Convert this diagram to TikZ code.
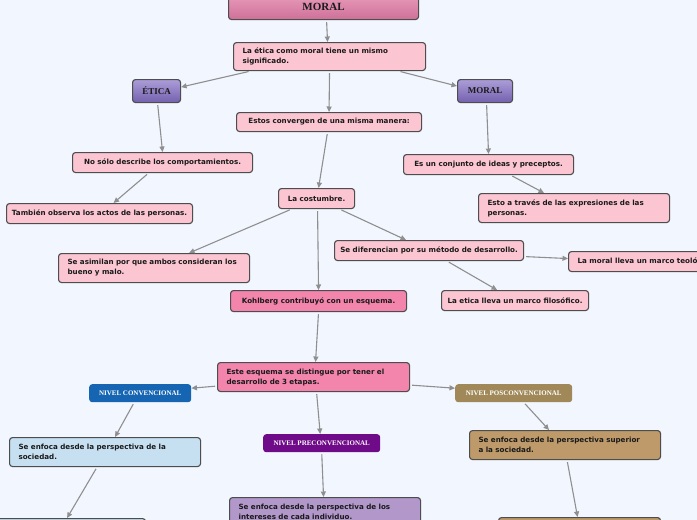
\documentclass[tikz,border=0pt]{standalone}
\usepackage{fontspec}
\setmainfont{Liberation Serif}
\newfontfamily\boxfont{DejaVu Sans}
\usetikzlibrary{arrows.meta,positioning}

\definecolor{bgblue}{HTML}{F2F6FE}
\definecolor{boxline}{HTML}{4D4D4D}
\definecolor{ink}{HTML}{1A1A1A}
\definecolor{linkgray}{HTML}{8F8F8F}
\definecolor{lightpink}{HTML}{FBC6D2}
\definecolor{strongpink}{HTML}{F385AC}
\definecolor{toppinkA}{HTML}{E79BBA}
\definecolor{toppinkB}{HTML}{CF7099}
\definecolor{headpurpleA}{HTML}{AC9DD8}
\definecolor{headpurpleB}{HTML}{7361AE}
\definecolor{convblue}{HTML}{1565B2}
\definecolor{poskhaki}{HTML}{A08858}
\definecolor{prepurple}{HTML}{6F0A88}
\definecolor{socblue}{HTML}{C6E0F2}
\definecolor{suptan}{HTML}{BE9A6B}
\definecolor{intlav}{HTML}{B197CA}

\begin{document}
\begin{tikzpicture}[x=1pt,y=-1pt,
  box/.style={draw=boxline,line width=1.1pt,rounded corners=3pt,anchor=north west,
    inner xsep=3pt,inner ysep=0pt,text=ink,align=left,
    font=\boxfont\bfseries\fontsize{7.15}{10}\selectfont},
  sz/.style 2 args={minimum width=#1,minimum height=#2},
  wrap/.style={inner xsep=9pt,text width=#1,minimum height=29},
  head/.style={rounded corners=3pt,anchor=north west,inner sep=0pt,text=white,
    font=\bfseries\fontsize{7}{8}\selectfont},
  purplehead/.style={draw=boxline,line width=1.1pt,rounded corners=3pt,anchor=north west,
    inner sep=0pt,top color=headpurpleA,bottom color=headpurpleB,text=ink,
    font=\bfseries\fontsize{9}{10}\selectfont},
  link/.style={draw=linkgray,line width=1.1pt,shorten <=2pt,
    -{Triangle[length=5.5pt,width=5pt]}}]

\useasboundingbox (0,0) rectangle (697,520);
\fill[bgblue] (0,0) rectangle (697,520);
\clip (0,0) rectangle (697,520);

% first level
\node[box,sz={190}{25},top color=toppinkA,bottom color=toppinkB,
  font=\bfseries\fontsize{11}{12}\selectfont] (moraltop) at (228,-6) {MORAL};
\node[box,wrap=174,minimum height=28,fill=lightpink] (laetica) at (233,42)
  {La ética como moral tiene un mismo\\significado.};
\node[purplehead,sz={48}{23}] (etica) at (132,79) {ÉTICA};
\node[purplehead,sz={55}{23}] (moral) at (457,79) {MORAL};
\node[box,sz={185}{19},fill=lightpink] (convergen) at (236,112) {Estos convergen de una misma manera:};

% etica / moral branches
\node[box,sz={180}{20},fill=lightpink] (nosolo) at (72,152) {No sólo describe los comportamientos.};
\node[box,sz={186}{20},fill=lightpink] (tambien) at (6,203) {También observa los actos de las personas.};
\node[box,sz={170}{20},fill=lightpink] (conjunto) at (403,154) {Es un conjunto de ideas y preceptos.};
\node[box,wrap=173,fill=lightpink] (esto) at (478,193)
  {Esto a través de las expresiones de las\\personas.};

% la costumbre
\node[box,sz={76}{20},fill=lightpink] (costumbre) at (278,188) {La costumbre.};
\node[box,wrap=173,fill=lightpink] (asimilan) at (58,253)
  {Se asimilan por que ambos consideran los\\bueno y malo.};
\node[box,sz={189}{20},fill=lightpink] (diferencian) at (334,240) {Se diferencian por su método de desarrollo.};
\node[box,sz={150}{20},inner xsep=9pt,fill=lightpink] (teolog) at (568,251) {La moral lleva un marco teológico.};
\node[box,sz={147}{20},fill=lightpink] (filosofico) at (441,290) {La etica lleva un marco filosófico.};
\node[box,sz={176}{21},fill=strongpink] (kohlberg) at (230,290) {Kohlberg contribuyó con un esquema.};

% kohlberg levels
\node[box,wrap=174,fill=strongpink] (esquema) at (217,362)
  {Este esquema se distingue por tener el\\desarrollo de 3 etapas.};
\node[head,sz={102}{18},fill=convblue] (convencional) at (89,384) {NIVEL CONVENCIONAL};
\node[head,sz={117}{18},fill=poskhaki] (posconv) at (455,384) {NIVEL POSCONVENCIONAL};
\node[head,sz={117}{18},fill=prepurple] (preconv) at (263,434) {NIVEL PRECONVENCIONAL};
\node[box,wrap=173,fill=socblue] (sociedad) at (9,437)
  {Se enfoca desde la perspectiva de la\\sociedad.};
\node[box,wrap=173,fill=suptan] (superior) at (469,430)
  {Se enfoca desde la perspectiva superior\\a la sociedad.};
\node[box,wrap=173,minimum height=28,fill=intlav] (intereses) at (229,497)
  {Se enfoca desde la perspectiva de los\\intereses de cada individuo.};
\node[box,sz={195}{30},fill=socblue] (botleft) at (-50,518) {};
\node[box,sz={162}{30},fill=suptan] (botright) at (498,517) {};

% connectors
\draw[link] ([xshift=3pt]moraltop.south) -- ([xshift=-2pt]laetica.north);
\draw[link] ([xshift=-79pt]laetica.south) -- ([yshift=4pt]etica.east);
\draw[link] (laetica.south) -- (convergen.north);
\draw[link] ([xshift=69pt]laetica.south) -- ([yshift=5pt]moral.west);
\draw[link] ([xshift=1pt]etica.south) -- (nosolo.north);
\draw[link] ([xshift=-14pt]nosolo.south) -- ([xshift=14pt]tambien.north);
\draw[link] ([xshift=-1.5pt]convergen.south) -- ([xshift=2pt]costumbre.north);
\draw[link] ([xshift=1.5pt]moral.south) -- (conjunto.north);
\draw[link] ([xshift=22pt]conjunto.south) -- ([xshift=-30pt]esto.north);
\draw[link] ([xshift=-25pt]costumbre.south) -- ([xshift=35pt]asimilan.north);
\draw[link] ([xshift=1pt]costumbre.south) -- (kohlberg.north);
\draw[link] ([xshift=23pt]costumbre.south) -- ([xshift=-23pt]diferencian.north);
\draw[link] ([yshift=-6pt]diferencian.east) -- ([yshift=3pt]teolog.west);
\draw[link] ([xshift=18pt]diferencian.south) -- ([xshift=-18pt]filosofico.north);
\draw[link] (kohlberg.south) -- ([xshift=2pt]esquema.north);
\draw[link] ([yshift=-9pt]esquema.west) -- ([yshift=5pt]convencional.east);
\draw[link] ([yshift=-8pt]esquema.east) -- ([yshift=5pt]posconv.west);
\draw[link] ([xshift=3pt]esquema.south) -- ([xshift=-1.5pt]preconv.north);
\draw[link] ([xshift=-6pt]convencional.south) -- ([xshift=10pt]sociedad.north);
\draw[link] ([xshift=10pt]posconv.south) -- ([xshift=-16pt]superior.north);
\draw[link] (preconv.south) -- ([xshift=-1.5pt]intereses.north);
\draw[link] ([xshift=-8pt]sociedad.south) -- ([xshift=19pt]botleft.north);
\draw[link] ([xshift=2pt]superior.south) -- ([xshift=-2pt]botright.north);
\end{tikzpicture}
\end{document}
